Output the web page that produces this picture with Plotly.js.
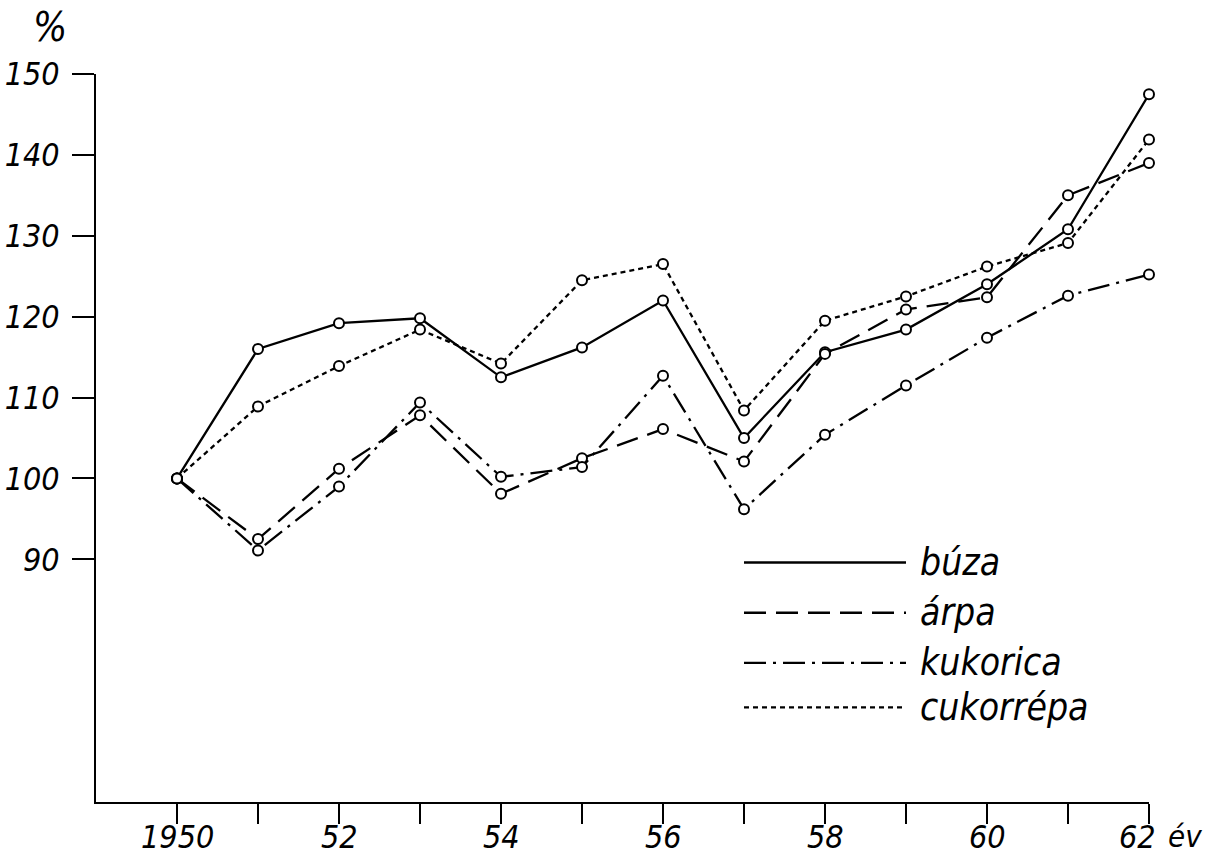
<!DOCTYPE html>
<html>
<head>
<meta charset="utf-8">
<script src="https://cdn.plot.ly/plotly-3.0.1.min.js"></script>
<style>html,body{margin:0;padding:0;background:#fff;}#chart{width:1206px;height:862px;}</style>
</head>
<body>
<div id="chart"></div>
<script>
const years = [1950,1951,1952,1953,1954,1955,1956,1957,1958,1959,1960,1961,1962];
const buza      = [100,116.0,119.2,119.8,112.5,116.2,122.0,105.0,115.6,118.4,124.0,130.8,147.5];
const arpa      = [100, 92.5,101.2,107.8, 98.1,102.5,106.1,102.1,115.4,120.9,122.4,135.0,139.0];
const kukorica  = [100, 91.1, 99.0,109.4,100.2,101.4,112.7, 96.2,105.4,111.5,117.4,122.6,125.2];
const cukorrepa = [100,108.9,113.9,118.4,114.2,124.5,126.5,108.4,119.5,122.5,126.2,129.1,141.9];
const seriesNames = ['búza','árpa','kukorica','cukorrépa'];
const yTickVals = [90,100,110,120,130,140,150];
const xTickVals = years;
const xTickText = ['1950','','52','','54','','56','','58','','60','','62'];

const FONT = '"DejaVu Sans Condensed", "Liberation Sans Narrow", "Liberation Sans", sans-serif';
const TICKSIZE = 32;
const dashes = ['solid','22px,10px','22px,7px,3px,7px','5px,4px'];
const data = [buza, arpa, kukorica, cukorrepa];

const traces = data.map((vals, i) => ({
  x: years, y: vals, type: 'scatter', mode: 'lines+markers', name: seriesNames[i],
  line: {color: '#000', width: 2.3, dash: dashes[i]},
  marker: {symbol: 'circle', size: 10, color: '#fff', line: {color: '#000', width: 2}},
  showlegend: false, cliponaxis: false
}));

// hand-drawn style legend inside the plot
const legendY = [89.6, 83.4, 77.2, 71.7];
const shapes = [];
const annotations = [];
seriesNames.forEach((n, i) => {
  shapes.push({type: 'line', xref: 'x', yref: 'y', x0: 1957.0, x1: 1959.0, y0: legendY[i], y1: legendY[i],
    line: {color: '#000', width: 2.4, dash: dashes[i]}});
  annotations.push({xref: 'x', yref: 'y', x: 1959.15, y: legendY[i], text: n, showarrow: false,
    xanchor: 'left', yanchor: 'middle', font: {family: FONT, size: 37, style: 'italic', color: '#000'}});
});
// x tick labels (placed close under the ticks, as in the original)
xTickVals.forEach((v, i) => {
  if (xTickText[i]) {
    annotations.push({xref: 'x', yref: 'paper', x: v, y: -0.02, text: xTickText[i], showarrow: false,
      xanchor: 'center', yanchor: 'top', borderpad: 0, xshift: (i === xTickVals.length - 1) ? -12 : 0,
      font: {family: FONT, size: TICKSIZE, style: 'italic', color: '#000'}});
  }
});
annotations.push({xref: 'paper', yref: 'paper', x: -0.044, y: 1.03, text: '%', showarrow: false,
  xanchor: 'center', yanchor: 'bottom', font: {family: FONT, size: 40, style: 'italic', color: '#000'}});
annotations.push({xref: 'paper', yref: 'paper', x: 1.051, y: -0.02, text: 'év', showarrow: false,
  xanchor: 'right', yanchor: 'top', borderpad: 0, font: {family: FONT, size: 31, style: 'italic', color: '#000'}});

const layout = {
  width: 1206, height: 862,
  margin: {l: 96, r: 57, t: 74, b: 60, pad: 0},
  paper_bgcolor: '#fff', plot_bgcolor: '#fff',
  showlegend: false,
  font: {family: FONT, color: '#000'},
  xaxis: {
    range: [1949, 1962], tickvals: xTickVals, showticklabels: false,
    ticks: 'outside', ticklen: 20, tickwidth: 2, tickcolor: '#000',
    showline: true, linecolor: '#000', linewidth: 2, showgrid: false, zeroline: false
  },
  yaxis: {
    range: [60, 150], tickvals: yTickVals, ticktext: yTickVals.map(String),
    ticks: 'outside', ticklen: 22, tickwidth: 2, tickcolor: '#000',
    showline: true, linecolor: '#000', linewidth: 2, showgrid: false, zeroline: false,
    tickfont: {family: FONT, size: TICKSIZE, style: 'italic', color: '#000'}, ticklabelstandoff: 6
  },
  shapes: shapes,
  annotations: annotations
};

Plotly.newPlot('chart', traces, layout, {staticPlot: true, displayModeBar: false});
</script>
</body>
</html>
